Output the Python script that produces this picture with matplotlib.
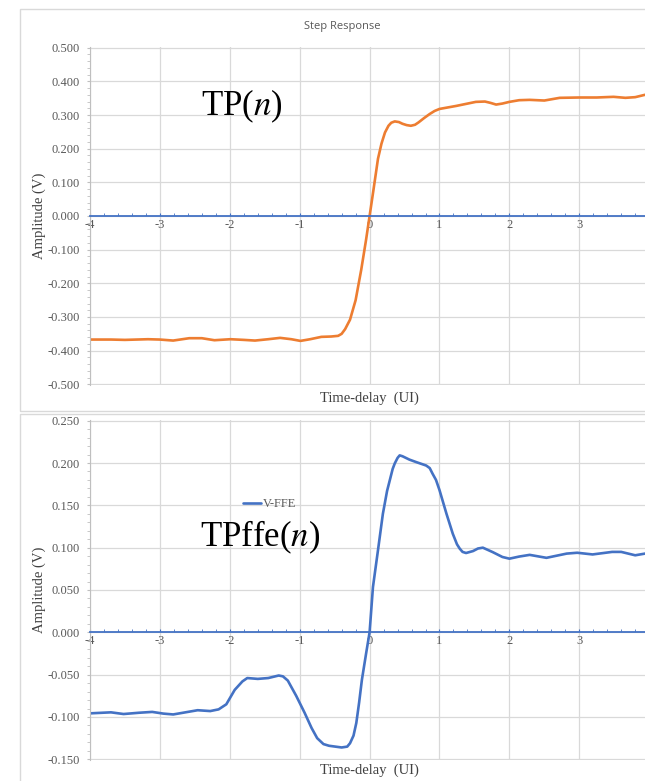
import matplotlib
matplotlib.use("Agg")
import matplotlib.pyplot as plt
from matplotlib.patches import Rectangle
from matplotlib.ticker import MultipleLocator, AutoMinorLocator, FormatStrFormatter

plt.rcParams['axes.unicode_minus'] = False
plt.rcParams['mathtext.fontset'] = 'stix'

# step response TP(n), time in UI
tp_t = [-4.0, -3.7, -3.5, -3.17, -3.0, -2.81, -2.58, -2.4, -2.22, -1.99, -1.8, -1.64,
        -1.45, -1.28, -1.12, -0.99, -0.85, -0.69, -0.55, -0.45, -0.4, -0.35, -0.28, -0.2,
        -0.12, -0.05, 0.0, 0.05, 0.12, 0.17, 0.22, 0.27, 0.31, 0.36, 0.42, 0.47, 0.53, 0.59,
        0.65, 0.7, 0.78, 0.86, 0.93, 1.0, 1.24, 1.52, 1.65, 1.73, 1.81, 1.9, 2.0, 2.14, 2.29,
        2.5, 2.72, 3.0, 3.25, 3.49, 3.66, 3.8, 3.94]
tp_v = [-0.367, -0.367, -0.368, -0.366, -0.367, -0.370, -0.363, -0.363, -0.369, -0.366,
        -0.368, -0.370, -0.366, -0.362, -0.366, -0.371, -0.366, -0.359, -0.358, -0.356,
        -0.350, -0.336, -0.308, -0.250, -0.160, -0.070, 0.0, 0.070, 0.170, 0.215, 0.248,
        0.268, 0.277, 0.281, 0.279, 0.274, 0.270, 0.268, 0.271, 0.278, 0.291, 0.303,
        0.312, 0.318, 0.327, 0.339, 0.340, 0.336, 0.331, 0.334, 0.339, 0.344,
        0.345, 0.343, 0.351, 0.352, 0.352, 0.354, 0.351, 0.353, 0.360]

# FFE step response TPffe(n)
ffe_t = [-4.0, -3.7, -3.52, -3.3, -3.11, -2.95, -2.81, -2.6, -2.46, -2.28, -2.16, -2.05,
         -1.93, -1.82, -1.75, -1.6, -1.45, -1.3, -1.24, -1.17, -1.05, -0.93, -0.83, -0.75,
         -0.66, -0.58, -0.4, -0.32, -0.28, -0.23, -0.19, -0.15, -0.11, -0.05, 0.0, 0.048,
         0.12, 0.19, 0.25, 0.29, 0.33, 0.36, 0.4, 0.43, 0.47, 0.57, 0.67, 0.81, 0.86, 0.9,
         0.95, 1.0, 1.1, 1.19, 1.25, 1.29, 1.33, 1.38, 1.48, 1.55, 1.62, 1.76, 1.9, 2.0,
         2.14, 2.29, 2.53, 2.82, 2.97, 3.19, 3.47, 3.6, 3.8, 3.94]
ffe_v = [-0.0957, -0.0945, -0.0965, -0.095, -0.094, -0.096, -0.097, -0.094, -0.092, -0.093,
         -0.091, -0.085, -0.068, -0.058, -0.054, -0.055, -0.054, -0.051, -0.052, -0.057,
         -0.075, -0.095, -0.113, -0.125, -0.132, -0.134, -0.136, -0.135, -0.131, -0.122,
         -0.107, -0.083, -0.056, -0.025, 0.0, 0.0535, 0.097, 0.140, 0.167, 0.180, 0.193,
         0.1995, 0.206, 0.209, 0.208, 0.204, 0.201, 0.197, 0.194, 0.1875, 0.180, 0.168,
         0.140, 0.1165, 0.104, 0.0988, 0.095, 0.0937, 0.096, 0.099, 0.100, 0.0948, 0.089,
         0.087, 0.0895, 0.0915, 0.088, 0.093, 0.094, 0.092, 0.095, 0.095, 0.091, 0.093]

x_ticks = [-4, -3, -2, -1, 0, 1, 2, 3]

W, H = 645, 781
fig = plt.figure(figsize=(W / 100, H / 100), dpi=100)


def fx(px):
    return px / W


def fy(py):
    return 1 - py / H


# chart frames
fig.patches.append(Rectangle((fx(20), fy(411)), 1.0, fy(9) - fy(411), transform=fig.transFigure,
                             fill=False, edgecolor='#D9D9D9', linewidth=1.0))
fig.patches.append(Rectangle((fx(20), fy(800)), 1.0, fy(414) - fy(800), transform=fig.transFigure,
                             fill=False, edgecolor='#D9D9D9', linewidth=1.0))

serif = 'Liberation Serif'
gray = '#595959'


def style_axes(ax, ylim, ymajor):
    pad = (ylim[1] - ylim[0]) * 0.002
    ax.set_xlim(-4, 3.94)
    ax.set_ylim(ylim[0] - pad, ylim[1] + pad)
    ax.xaxis.set_major_locator(MultipleLocator(1))
    ax.xaxis.set_minor_locator(MultipleLocator(0.2))
    ax.yaxis.set_major_locator(MultipleLocator(ymajor))
    ax.yaxis.set_minor_locator(AutoMinorLocator(5))
    ax.yaxis.set_major_formatter(FormatStrFormatter('%.3f'))
    ax.set_xticks(x_ticks)
    ax.set_xticklabels([str(v) for v in x_ticks])
    ax.grid(True, which='major', color='#D9D9D9', linewidth=0.9)
    ax.set_axisbelow(True)
    for s in ['top', 'right']:
        ax.spines[s].set_visible(False)
    ax.spines['left'].set_color('#BFBFBF')
    ax.spines['bottom'].set_position(('data', 0))
    ax.spines['bottom'].set_color('#4472C4')
    ax.spines['bottom'].set_linewidth(1.3)
    ax.tick_params(axis='y', which='both', direction='out', length=2.5, color='#BFBFBF',
                   labelsize=9, labelcolor=gray, pad=5)
    ax.tick_params(axis='x', which='both', direction='in', length=2.5, color='#4472C4',
                   labelsize=9, labelcolor=gray, pad=2)
    for lab in ax.get_xticklabels() + ax.get_yticklabels():
        lab.set_family(serif)


# top panel
ax1 = fig.add_axes([fx(90), fy(385), 1 - fx(90), fy(47) - fy(385)])
ax1.plot(tp_t, tp_v, color='#ED7D31', linewidth=1.9, solid_capstyle='round',
         solid_joinstyle='round')
style_axes(ax1, (-0.5, 0.5), 0.1)

fig.text(fx(342), fy(27), 'Step Response', ha='center', va='center', fontsize=8,
         family='Open Sans', color=gray)
fig.text(fx(369), fy(398), 'Time-delay  (UI)', ha='center', va='center', fontsize=10.5,
         family=serif, color='#404040')
fig.text(fx(39), fy(216), 'Amplitude (V)', ha='center', va='center', rotation=90,
         fontsize=10.5, family=serif, color='#404040')
fig.text(fx(242), fy(106), 'TP($n$)', ha='center', va='center', fontsize=25, family=serif,
         color='black')

# bottom panel
ax2 = fig.add_axes([fx(90), fy(760), 1 - fx(90), fy(420) - fy(760)])
ax2.plot(ffe_t, ffe_v, color='#4472C4', linewidth=1.9, label='V-FFE', solid_capstyle='round',
         solid_joinstyle='round')
style_axes(ax2, (-0.15, 0.25), 0.05)

fig.text(fx(369), fy(770), 'Time-delay  (UI)', ha='center', va='center', fontsize=10.5,
         family=serif, color='#404040')
fig.text(fx(39), fy(590), 'Amplitude (V)', ha='center', va='center', rotation=90,
         fontsize=10.5, family=serif, color='#404040')
fig.text(fx(260), fy(537), 'TPffe($n$)', ha='center', va='center', fontsize=25, family=serif,
         color='black')

leg = ax2.legend(loc='center left', bbox_to_anchor=(fx(243), fy(504)), bbox_transform=fig.transFigure,
                 frameon=False, borderpad=0, borderaxespad=0, handlelength=1.4, handletextpad=0.2,
                 prop={'family': serif, 'size': 9})
for t in leg.get_texts():
    t.set_color(gray)

fig.savefig('out.png', dpi=100)
